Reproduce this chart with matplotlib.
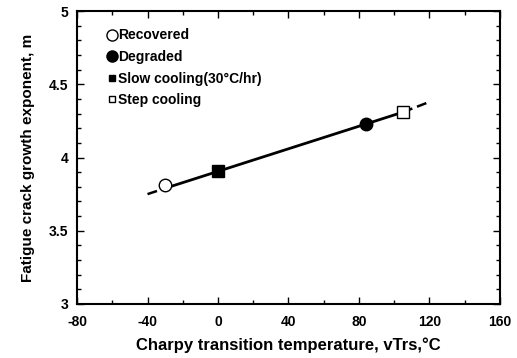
import matplotlib
matplotlib.use("Agg")
import matplotlib.pyplot as plt
from matplotlib.ticker import MultipleLocator

# data
labels = ["Recovered", "Degraded", "Slow cooling(30\u00b0C/hr)", "Step cooling"]
vtrs = [-30, 84, 0, 105]
m_exp = [3.81, 4.23, 3.91, 4.31]
markers = ["o", "o", "s", "s"]
filled = [False, True, True, False]

fit_x = [-40, -30, 105, 120]
fit_y = [3.75, 3.79, 4.31, 4.38]

plt.rcParams['font.family'] = ['Liberation Sans Narrow', 'Liberation Sans', 'DejaVu Sans']
plt.rcParams['font.weight'] = 'bold'
plt.rcParams['axes.labelweight'] = 'bold'
plt.rcParams['axes.unicode_minus'] = False

fig = plt.figure(figsize=(5.17, 3.58), dpi=100)
ax = fig.add_axes([0.149, 0.151, 0.818, 0.818])

# fit line, dashed beyond the data range
ax.plot(fit_x[1:3], fit_y[1:3], color='black', lw=2.0, zorder=2)
ax.plot(fit_x[:2], fit_y[:2], color='black', lw=1.8, ls=(0, (4, 2)), zorder=2)
ax.plot(fit_x[2:], fit_y[2:], color='black', lw=1.8, ls=(0, (4, 2)), zorder=2)

# points on the chart
for x, y, mk, f in zip(vtrs, m_exp, markers, filled):
    ax.plot(x, y, marker=mk, ms=9 if mk == 'o' else 8, mfc='black' if f else 'white',
            mec='black', mew=1.0, ls='none', zorder=3)

# legend entries (smaller markers than on the chart)
leg_ms = [8, 8, 4.5, 4.5]
handles = []
for lab, mk, f, ms in zip(labels, markers, filled, leg_ms):
    h, = ax.plot([], [], marker=mk, ms=ms, mfc='black' if f else 'white',
                 mec='black', mew=1.0, ls='none', label=lab)
    handles.append(h)
ax.legend(handles=handles, loc='upper left', bbox_to_anchor=(0.06, 0.96),
          frameon=False, handlelength=0.6, handletextpad=0.15,
          labelspacing=0.55, borderaxespad=0, prop={'size': 10, 'weight': 'bold'})

ax.set_xlim(-80, 160)
ax.set_ylim(3, 5)
ax.xaxis.set_major_locator(MultipleLocator(40))
ax.xaxis.set_minor_locator(MultipleLocator(20))
ax.yaxis.set_major_locator(MultipleLocator(0.5))
ax.yaxis.set_minor_locator(MultipleLocator(0.1))
ax.set_yticks([3, 3.5, 4, 4.5, 5])
ax.set_yticklabels(["3", "3.5", "4", "4.5", "5"])

ax.tick_params(which='both', direction='in', top=True, right=True, labelsize=10, width=1)
ax.tick_params(which='major', length=5)
ax.tick_params(which='minor', length=3)
ax.tick_params(axis='x', pad=8)
ax.tick_params(axis='y', pad=6)
for sp in ax.spines.values():
    sp.set_linewidth(1.5)

ax.set_xlabel("Charpy transition temperature, vTrs,\u00b0C", fontsize=12, labelpad=6)
ax.set_ylabel("Fatigue crack growth exponent, m", fontsize=11, labelpad=10)

fig.savefig("out.png", dpi=100)
